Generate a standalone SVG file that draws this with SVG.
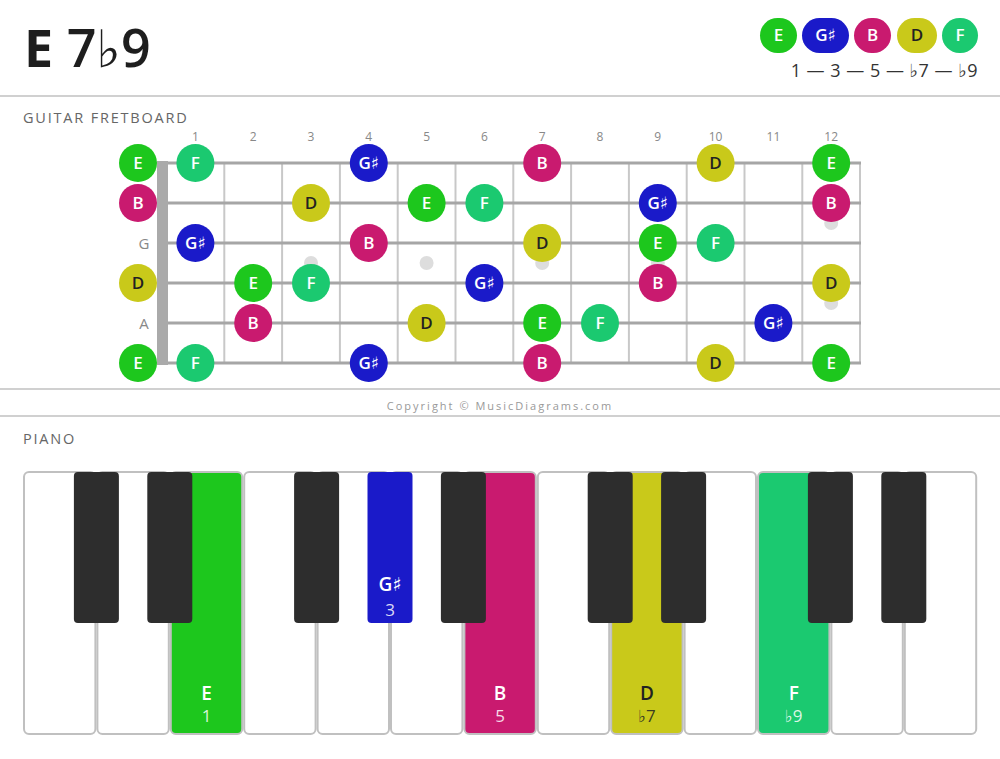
<svg xmlns="http://www.w3.org/2000/svg" width="1000" height="759" viewBox="0 0 1000 759">
<style>
text{font-family:"Open Sans","Noto Sans","DejaVu Sans",sans-serif}
.sep{stroke:#d0d0d0;stroke-width:2}
.sec{font-size:14.5px;fill:#666;letter-spacing:1.8px}
.fn{font-size:12px;fill:#888;text-anchor:middle}
.str{stroke:#a6a6a6;stroke-width:3}
.fret{stroke:#c8c8c8;stroke-width:2}
.inlay{fill:#dddddd}
.wk{fill:#fff;stroke:#c0c0c0;stroke-width:2}
.bk{fill:#2d2d2d}
.kn{font-size:19px;font-weight:600;text-anchor:middle;fill:#fff}
.ki{font-size:17px;text-anchor:middle;fill:#fff;fill-opacity:0.85}
.nl{font-size:17px;font-weight:600;text-anchor:middle;fill:#fff}
.dk{fill:#222}
.cE{fill:#1dc71d}.cG{fill:#1a1ac9}.cB{fill:#c91a6f}.cD{fill:#c9c91a}.cF{fill:#1bc970}
.os{font-size:15px;fill:#888;text-anchor:middle}
</style>
<rect width="1000" height="759" fill="#fff"/>
<g id="title"><text x="24" y="67" font-size="52" font-weight="600" fill="#1e1e1e"><tspan font-weight="700">E</tspan> 7♭9</text></g>
<g id="legend">
<rect class="cE" x="760" y="18" width="37" height="35" rx="17.5"/><text class="nl" x="778.5" y="41">E</text>
<rect class="cG" x="802" y="18" width="47" height="35" rx="17.5"/><text class="nl" x="825.5" y="41">G♯</text>
<rect class="cB" x="854" y="18" width="37" height="35" rx="17.5"/><text class="nl" x="872.5" y="41">B</text>
<rect class="cD" x="897" y="18" width="40" height="35" rx="17.5"/><text class="nl dk" x="917" y="41">D</text>
<rect class="cF" x="942" y="18" width="36" height="35" rx="17.5"/><text class="nl" x="960" y="41">F</text>
<text x="978" y="77" font-size="18" fill="#333" text-anchor="end" letter-spacing="0.5">1 — 3 — 5 — ♭7 — ♭9</text>
</g>
<line class="sep" x1="0" y1="96" x2="1000" y2="96"/>
<text class="sec" x="23" y="123">GUITAR FRETBOARD</text>
<g id="fret-numbers">
<text class="fn" x="195.4" y="141">1</text><text class="fn" x="253.2" y="141">2</text><text class="fn" x="311" y="141">3</text><text class="fn" x="368.8" y="141">4</text><text class="fn" x="426.6" y="141">5</text><text class="fn" x="484.4" y="141">6</text><text class="fn" x="542.2" y="141">7</text><text class="fn" x="600" y="141">8</text><text class="fn" x="657.8" y="141">9</text><text class="fn" x="715.6" y="141">10</text><text class="fn" x="773.4" y="141">11</text><text class="fn" x="831.2" y="141">12</text>
</g>
<g id="fretboard">
<circle class="inlay" cx="311" cy="263" r="7"/><circle class="inlay" cx="426.6" cy="263" r="7"/><circle class="inlay" cx="542.2" cy="263" r="7"/><circle class="inlay" cx="657.8" cy="263" r="7"/><circle class="inlay" cx="831.2" cy="223" r="7"/><circle class="inlay" cx="831.2" cy="303" r="7"/>
<line class="fret" x1="224.3" y1="163" x2="224.3" y2="363"/><line class="fret" x1="282.1" y1="163" x2="282.1" y2="363"/><line class="fret" x1="339.9" y1="163" x2="339.9" y2="363"/><line class="fret" x1="397.7" y1="163" x2="397.7" y2="363"/><line class="fret" x1="455.5" y1="163" x2="455.5" y2="363"/><line class="fret" x1="513.3" y1="163" x2="513.3" y2="363"/><line class="fret" x1="571.1" y1="163" x2="571.1" y2="363"/><line class="fret" x1="628.9" y1="163" x2="628.9" y2="363"/><line class="fret" x1="686.7" y1="163" x2="686.7" y2="363"/><line class="fret" x1="744.5" y1="163" x2="744.5" y2="363"/><line class="fret" x1="802.3" y1="163" x2="802.3" y2="363"/><line class="fret" x1="860" y1="163" x2="860" y2="363"/>
<line class="str" x1="157" y1="163" x2="861" y2="163"/><line class="str" x1="157" y1="203" x2="861" y2="203"/><line class="str" x1="157" y1="243" x2="861" y2="243"/><line class="str" x1="157" y1="283" x2="861" y2="283"/><line class="str" x1="157" y1="323" x2="861" y2="323"/><line class="str" x1="157" y1="363" x2="861" y2="363"/>
<rect x="157" y="161" width="11" height="204" fill="#aaaaaa"/>
</g>
<g id="open-strings">
<circle class="cE" cx="138" cy="163" r="19"/><text class="nl" x="138" y="169">E</text>
<circle class="cB" cx="138" cy="203" r="19"/><text class="nl" x="138" y="209">B</text>
<text class="os" x="144" y="249">G</text>
<circle class="cD" cx="138" cy="283" r="19"/><text class="nl dk" x="138" y="289">D</text>
<text class="os" x="144" y="329">A</text>
<circle class="cE" cx="138" cy="363" r="19"/><text class="nl" x="138" y="369">E</text>
</g>
<g id="string1">
<circle class="cF" cx="195.4" cy="163" r="19"/><text class="nl" x="195.4" y="169">F</text>
<circle class="cG" cx="368.8" cy="163" r="19"/><text class="nl" x="368.8" y="169">G♯</text>
<circle class="cB" cx="542.2" cy="163" r="19"/><text class="nl" x="542.2" y="169">B</text>
<circle class="cD" cx="715.6" cy="163" r="19"/><text class="nl dk" x="715.6" y="169">D</text>
<circle class="cE" cx="831.2" cy="163" r="19"/><text class="nl" x="831.2" y="169">E</text>
</g>
<g id="string2">
<circle class="cD" cx="311" cy="203" r="19"/><text class="nl dk" x="311" y="209">D</text>
<circle class="cE" cx="426.6" cy="203" r="19"/><text class="nl" x="426.6" y="209">E</text>
<circle class="cF" cx="484.4" cy="203" r="19"/><text class="nl" x="484.4" y="209">F</text>
<circle class="cG" cx="657.8" cy="203" r="19"/><text class="nl" x="657.8" y="209">G♯</text>
<circle class="cB" cx="831.2" cy="203" r="19"/><text class="nl" x="831.2" y="209">B</text>
</g>
<g id="string3">
<circle class="cG" cx="195.4" cy="243" r="19"/><text class="nl" x="195.4" y="249">G♯</text>
<circle class="cB" cx="368.8" cy="243" r="19"/><text class="nl" x="368.8" y="249">B</text>
<circle class="cD" cx="542.2" cy="243" r="19"/><text class="nl dk" x="542.2" y="249">D</text>
<circle class="cE" cx="657.8" cy="243" r="19"/><text class="nl" x="657.8" y="249">E</text>
<circle class="cF" cx="715.6" cy="243" r="19"/><text class="nl" x="715.6" y="249">F</text>
</g>
<g id="string4">
<circle class="cE" cx="253.2" cy="283" r="19"/><text class="nl" x="253.2" y="289">E</text>
<circle class="cF" cx="311" cy="283" r="19"/><text class="nl" x="311" y="289">F</text>
<circle class="cG" cx="484.4" cy="283" r="19"/><text class="nl" x="484.4" y="289">G♯</text>
<circle class="cB" cx="657.8" cy="283" r="19"/><text class="nl" x="657.8" y="289">B</text>
<circle class="cD" cx="831.2" cy="283" r="19"/><text class="nl dk" x="831.2" y="289">D</text>
</g>
<g id="string5">
<circle class="cB" cx="253.2" cy="323" r="19"/><text class="nl" x="253.2" y="329">B</text>
<circle class="cD" cx="426.6" cy="323" r="19"/><text class="nl dk" x="426.6" y="329">D</text>
<circle class="cE" cx="542.2" cy="323" r="19"/><text class="nl" x="542.2" y="329">E</text>
<circle class="cF" cx="600" cy="323" r="19"/><text class="nl" x="600" y="329">F</text>
<circle class="cG" cx="773.4" cy="323" r="19"/><text class="nl" x="773.4" y="329">G♯</text>
</g>
<g id="string6">
<circle class="cF" cx="195.4" cy="363" r="19"/><text class="nl" x="195.4" y="369">F</text>
<circle class="cG" cx="368.8" cy="363" r="19"/><text class="nl" x="368.8" y="369">G♯</text>
<circle class="cB" cx="542.2" cy="363" r="19"/><text class="nl" x="542.2" y="369">B</text>
<circle class="cD" cx="715.6" cy="363" r="19"/><text class="nl dk" x="715.6" y="369">D</text>
<circle class="cE" cx="831.2" cy="363" r="19"/><text class="nl" x="831.2" y="369">E</text>
</g>
<g id="connectors"></g>
<line class="sep" x1="0" y1="389" x2="1000" y2="389"/>
<text x="500" y="410" font-size="11" fill="#999" text-anchor="middle" letter-spacing="2">Copyright © MusicDiagrams.com</text>
<line class="sep" x1="0" y1="416" x2="1000" y2="416"/>
<text class="sec" x="23" y="444">PIANO</text>
<g id="piano">
<rect class="wk" x="24" y="472" width="71.4" height="262" rx="5"/>
<rect class="wk" x="97.4" y="472" width="71.4" height="262" rx="5"/>
<rect class="wk cE" x="170.8" y="472" width="71.4" height="262" rx="5"/>
<rect class="wk" x="244.2" y="472" width="71.4" height="262" rx="5"/>
<rect class="wk" x="317.6" y="472" width="71.4" height="262" rx="5"/>
<rect class="wk" x="391" y="472" width="71.4" height="262" rx="5"/>
<rect class="wk cB" x="464.4" y="472" width="71.4" height="262" rx="5"/>
<rect class="wk" x="537.8" y="472" width="71.4" height="262" rx="5"/>
<rect class="wk cD" x="611.2" y="472" width="71.4" height="262" rx="5"/>
<rect class="wk" x="684.6" y="472" width="71.4" height="262" rx="5"/>
<rect class="wk cF" x="758" y="472" width="71.4" height="262" rx="5"/>
<rect class="wk" x="831.4" y="472" width="71.4" height="262" rx="5"/>
<rect class="wk" x="904.8" y="472" width="71.4" height="262" rx="5"/>
<rect class="bk" x="73.9" y="472" width="45" height="151" rx="4"/>
<rect class="bk" x="147.3" y="472" width="45" height="151" rx="4"/>
<rect class="bk" x="294.1" y="472" width="45" height="151" rx="4"/>
<rect class="bk cG" x="367.5" y="472" width="45" height="151" rx="4"/>
<rect class="bk" x="440.9" y="472" width="45" height="151" rx="4"/>
<rect class="bk" x="587.7" y="472" width="45" height="151" rx="4"/>
<rect class="bk" x="661.1" y="472" width="45" height="151" rx="4"/>
<rect class="bk" x="807.9" y="472" width="45" height="151" rx="4"/>
<rect class="bk" x="881.3" y="472" width="45" height="151" rx="4"/>
<text class="kn" x="206.5" y="700">E</text><text class="ki" x="206.5" y="722">1</text>
<text class="kn" x="390" y="591" font-size="18">G♯</text><text class="ki" x="390" y="616">3</text>
<text class="kn" x="500.1" y="700">B</text><text class="ki" x="500.1" y="722">5</text>
<text class="kn dk" x="646.9" y="700">D</text><text class="ki dk" x="646.9" y="722">♭7</text>
<text class="kn" x="793.7" y="700">F</text><text class="ki" x="793.7" y="722">♭9</text>
</g>
</svg>
